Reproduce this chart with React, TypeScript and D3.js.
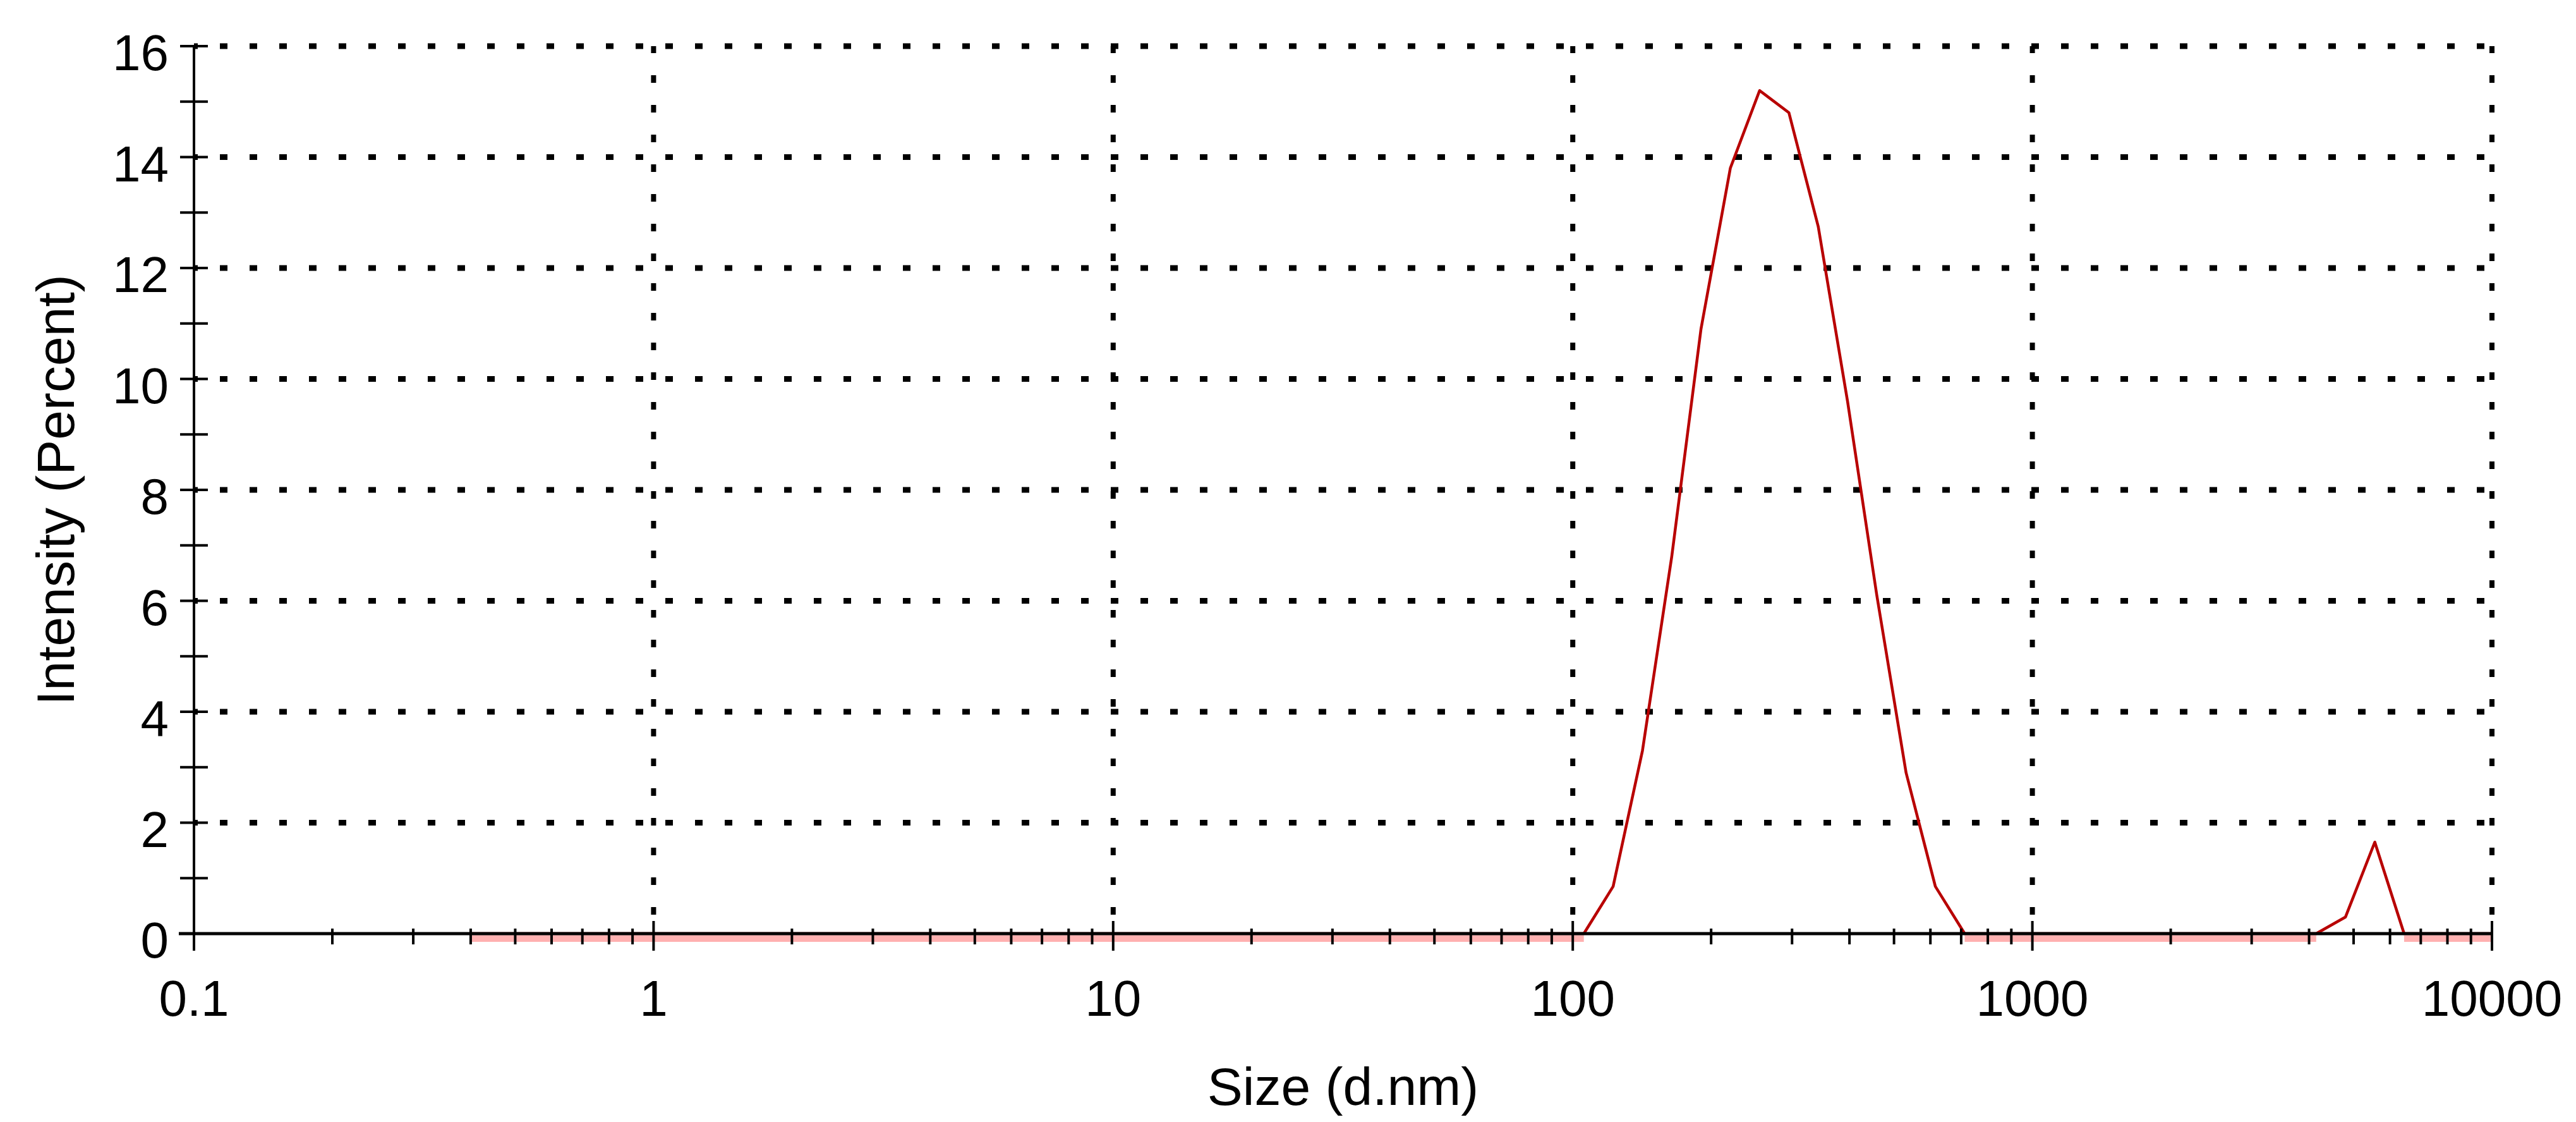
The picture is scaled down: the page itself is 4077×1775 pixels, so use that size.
import * as d3 from "d3";

const width = 4077;
const height = 1775;
const marginLeft = 307;
const marginRight = 133;
const marginTop = 73;
const marginBottom = 298;

// Zetasizer size classes (d.nm)
const sizes = [
	0.4, 0.4632, 0.5365, 0.6213, 0.7195, 0.8332, 0.9649, 1.117, 1.294, 1.499,
	1.736, 2.01, 2.328, 2.696, 3.122, 3.615, 4.187, 4.849, 5.615, 6.503, 7.531,
	8.721, 10.1, 11.7, 13.54, 15.69, 18.17, 21.04, 24.36, 28.21, 32.67, 37.84,
	43.82, 50.75, 58.77, 68.06, 78.82, 91.28, 105.7, 122.4, 141.8, 164.2, 190.1,
	220.2, 255.0, 295.3, 342.0, 396.1, 458.7, 531.2, 615.1, 712.4, 825.0, 955.4,
	1106, 1281, 1484, 1718, 1990, 2305, 2669, 3091, 3580, 4145, 4801, 5560,
	6439, 7456, 8635, 10000,
];

// Intensity (%) for each size class
const intensity = [
	0, 0, 0, 0, 0, 0, 0, 0, 0, 0, 0, 0, 0, 0, 0, 0, 0, 0, 0, 0, 0, 0, 0, 0, 0,
	0, 0, 0, 0, 0, 0, 0, 0, 0, 0, 0, 0, 0, 0, 0.85, 3.3, 6.8, 10.9, 13.8, 15.2,
	14.8, 12.75, 9.6, 6.1, 2.9, 0.85, 0, 0, 0, 0, 0, 0, 0, 0, 0, 0, 0, 0, 0, 0.3,
	1.65, 0, 0, 0, 0,
];

const xTickValues = [0.1, 1, 10, 100, 1000, 10000];
const xTickLabels = ["0.1", "1", "10", "100", "1000", "10000"];
const yTickValues = [0, 2, 4, 6, 8, 10, 12, 14, 16];
const yMinorValues = [1, 3, 5, 7, 9, 11, 13, 15];

const xTitle = "Size (d.nm)";
const yTitle = "Intensity (Percent)";

const font = "'Liberation Sans', Arial, sans-serif";

const App = () => {
	const data = sizes.map((s, i) => ({ size: s, value: intensity[i] }));

	const xScale = d3
		.scaleLog()
		.domain([0.1, 10000])
		.range([marginLeft, width - marginRight]);

	const yScale = d3
		.scaleLinear()
		.domain([0, 16])
		.range([height - marginBottom, marginTop]);

	// minor ticks 2..9 in every decade
	const xMinor = [];
	for (let k = 0; k < xTickValues.length - 1; k++) {
		for (let m = 2; m <= 9; m++) xMinor.push(xTickValues[k] * m);
	}

	const line = d3
		.line()
		.x((d) => xScale(d.size))
		.y((d) => yScale(d.value));

	// faint band the zero runs leave just under the axis
	const zeroBand = d3
		.line()
		.defined((d, i) => {
			const prev = data[i - 1];
			const next = data[i + 1];
			return d.value === 0 && ((prev && prev.value === 0) || (next && next.value === 0));
		})
		.x((d) => xScale(d.size))
		.y(() => yScale(0) + 8);

	const x0 = xScale.range()[0];
	const x1 = xScale.range()[1];
	const y0 = yScale(0);
	const y1 = yScale(16);

	return (
		<svg
			width={width}
			height={height}
			viewBox={`0 0 ${width} ${height}`}
			style={{ position: "absolute", left: 0, top: 0, background: "#fff" }}
		>
			<rect width={width} height={height} fill="#fff" />

			{/* horizontal grid */}
			<g className="y-grid">
				{yTickValues
					.filter((v) => v > 0)
					.map((v) => (
						<line
							key={v}
							x1={x0}
							x2={x1}
							y1={yScale(v)}
							y2={yScale(v)}
							stroke="#000"
							strokeWidth={9}
							strokeDasharray="12 35"
							strokeDashoffset={6}
						/>
					))}
			</g>

			{/* vertical grid */}
			<g className="x-grid">
				{xTickValues
					.filter((v) => v > 0.1)
					.map((v) => (
						<line
							key={v}
							x1={xScale(v)}
							x2={xScale(v)}
							y1={y0}
							y2={y1}
							stroke="#000"
							strokeWidth={8}
							strokeDasharray="12 35"
							strokeDashoffset={17}
						/>
					))}
			</g>

			<path
				d={zeroBand(data)}
				fill="none"
				stroke="#ffb0b0"
				strokeWidth={10}
			/>

			<path
				d={line(data)}
				fill="none"
				stroke="#b80000"
				strokeWidth={4.5}
				strokeLinejoin="round"
			/>

			{/* x axis */}
			<g className="x-axis">
				<line x1={x0 - 24} x2={x1} y1={y0} y2={y0} stroke="#000" strokeWidth={5} />
				{xMinor.map((v) => (
					<line
						key={v}
						x1={xScale(v)}
						x2={xScale(v)}
						y1={y0 - 8}
						y2={y0 + 17}
						stroke="#000"
						strokeWidth={4}
					/>
				))}
				{xTickValues.map((v, i) => (
					<g key={v}>
						<line
							x1={xScale(v)}
							x2={xScale(v)}
							y1={y0 - 20}
							y2={y0 + 27}
							stroke="#000"
							strokeWidth={4}
						/>
						<text
							x={xScale(v)}
							y={y0 + 130}
							textAnchor="middle"
							fontFamily={font}
							fontSize={80}
							fill="#000"
						>
							{xTickLabels[i]}
						</text>
					</g>
				))}
			</g>

			{/* y axis */}
			<g className="y-axis">
				<line x1={x0} x2={x0} y1={y0} y2={y1} stroke="#000" strokeWidth={4} />
				{yMinorValues.map((v) => (
					<line
						key={v}
						x1={x0 - 22}
						x2={x0 + 22}
						y1={yScale(v)}
						y2={yScale(v)}
						stroke="#000"
						strokeWidth={4}
					/>
				))}
				{yTickValues.map((v) => (
					<g key={v}>
						<line
							x1={x0 - 22}
							x2={x0 + 22}
							y1={yScale(v)}
							y2={yScale(v)}
							stroke="#000"
							strokeWidth={4}
						/>
						<text
							x={x0 - 40}
							y={yScale(v) + 38}
							textAnchor="end"
							fontFamily={font}
							fontSize={80}
							fill="#000"
						>
							{v}
						</text>
					</g>
				))}
			</g>

			<text
				x={(x0 + x1) / 2}
				y={1748}
				textAnchor="middle"
				fontFamily={font}
				fontSize={84}
				fill="#000"
			>
				{xTitle}
			</text>
			<text
				transform={`translate(117,${(y0 + y1) / 2}) rotate(-90)`}
				textAnchor="middle"
				fontFamily={font}
				fontSize={84}
				fill="#000"
			>
				{yTitle}
			</text>
		</svg>
	);
};

export default App;
